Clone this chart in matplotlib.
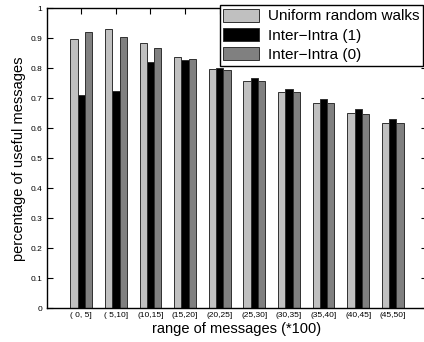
import matplotlib.pyplot as plt
import numpy as np

plt.rcParams['font.family'] = ['Liberation Sans', 'DejaVu Sans']

# x categories (range of messages, *100)
ranges = ['( 0, 5]', '( 5,10]', '(10,15]', '(15,20]', '(20,25]',
          '(25,30]', '(30,35]', '(35,40]', '(40,45]', '(45,50]']

# percentage of useful messages per series
uniform = [0.897, 0.930, 0.883, 0.839, 0.798, 0.759, 0.721, 0.685, 0.651, 0.619]
intra1 = [0.711, 0.723, 0.820, 0.827, 0.802, 0.767, 0.731, 0.698, 0.663, 0.631]
intra0 = [0.921, 0.904, 0.867, 0.830, 0.793, 0.757, 0.720, 0.683, 0.649, 0.617]

fig = plt.figure(figsize=(4.24, 3.42), dpi=100)
ax = fig.add_axes([0.110, 0.0985, 0.898, 0.877])

x = np.arange(1, len(ranges) + 1)
w = 0.21
ec = '#303030'
ax.bar(x - w, uniform, w, color='#c0c0c0', edgecolor=ec, linewidth=0.7,
       label='Uniform random walks')
ax.bar(x, intra1, w, color='#000000', edgecolor=ec, linewidth=0.7,
       label='Inter\u2212Intra (1)')
ax.bar(x + w, intra0, w, color='#808080', edgecolor=ec, linewidth=0.7,
       label='Inter\u2212Intra (0)')

ax.set_xlim(0, 11)
ax.set_ylim(0, 1)
ax.set_xticks(x)
ax.set_xticklabels(ranges, fontsize=6)
ax.set_yticks(np.arange(0, 1.01, 0.1))
ax.set_yticklabels(['0', '0.1', '0.2', '0.3', '0.4', '0.5', '0.6', '0.7',
                    '0.8', '0.9', '1'], fontsize=6)
ax.tick_params(direction='in', top=True, right=True, length=4, width=0.8,
               pad=3)
for s in ax.spines.values():
    s.set_linewidth(1.0)

ax.set_xlabel('range of messages (*100)', fontsize=10.5, labelpad=2)
ax.set_ylabel('percentage of useful messages', fontsize=10.5, labelpad=3)

leg = ax.legend(loc='upper right', bbox_to_anchor=(423 / 424, 1 - 5 / 342),
                bbox_transform=fig.transFigure, borderaxespad=0,
                fontsize=11, fancybox=False, framealpha=1,
                handlelength=2.3, handleheight=0.9, labelspacing=0.3,
                borderpad=0.25, handletextpad=0.6)
leg.get_frame().set_edgecolor('black')
leg.get_frame().set_linewidth(1.0)

plt.savefig('out.png', dpi=100)
